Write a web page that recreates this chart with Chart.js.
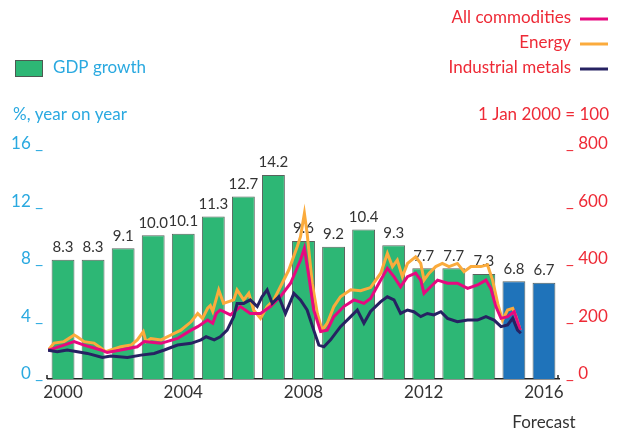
<!DOCTYPE html>
<html>
<head>
<meta charset="utf-8">
<script src="https://cdn.jsdelivr.net/npm/chart.js@4.4.1/dist/chart.umd.min.js"></script>
<style>
html, body { margin: 0; padding: 0; background: #fff; }
</style>
</head>
<body>
<canvas id="myChart" width="623" height="433"></canvas>
<script>
// GDP growth, % year on year (2015-16 are forecasts)
var years = ["2000","2001","2002","2003","2004","2005","2006","2007","2008","2009","2010","2011","2012","2013","2014","2015","2016"];
var gdpGrowth = [8.3, 8.3, 9.1, 10.0, 10.1, 11.3, 12.7, 14.2, 9.6, 9.2, 10.4, 9.3, 7.7, 7.7, 7.3, 6.8, 6.7];
var firstForecast = 2015;
var yearTicks = ["2000","2004","2008","2012","2016"];
var gdpTicks = [0, 4, 8, 12, 16];
var indexTicks = [0, 200, 400, 600, 800];

// commodity price indices, 1 Jan 2000 = 100
var allYears = [2000.00, 2000.53, 2000.87, 2001.20, 2001.76, 2001.97, 2002.42, 2002.97, 2003.20, 2003.76, 2004.31, 2004.76, 2004.98, 2005.31, 2005.48, 2005.60, 2005.73, 2006.07, 2006.40, 2006.73, 2007.07, 2007.40, 2007.73, 2008.07, 2008.40, 2008.53, 2008.68, 2008.84, 2009.07, 2009.29, 2009.51, 2009.84, 2010.18, 2010.51, 2010.73, 2011.07, 2011.29, 2011.51, 2011.73, 2011.96, 2012.23, 2012.40, 2012.51, 2012.73, 2012.96, 2013.29, 2013.62, 2013.96, 2014.29, 2014.57, 2014.73, 2014.90, 2015.07, 2015.29, 2015.51, 2015.71];
var allIndex = [100, 118, 130, 118, 101, 92, 101, 112, 130, 124, 141, 170, 182, 205, 194, 228, 240, 223, 252, 228, 228, 252, 286, 333, 414, 455, 356, 240, 165, 170, 217, 252, 275, 263, 280, 344, 385, 356, 321, 356, 368, 344, 298, 321, 344, 333, 333, 315, 327, 344, 315, 252, 211, 217, 234, 170];

var energyYears = [2000.00, 2000.20, 2000.53, 2000.87, 2000.97, 2001.20, 2001.53, 2001.76, 2001.92, 2002.09, 2002.42, 2002.76, 2002.97, 2003.17, 2003.26, 2003.42, 2003.76, 2004.09, 2004.42, 2004.76, 2004.98, 2005.14, 2005.31, 2005.40, 2005.48, 2005.68, 2005.84, 2006.18, 2006.29, 2006.51, 2006.68, 2006.84, 2007.07, 2007.29, 2007.51, 2007.79, 2008.01, 2008.29, 2008.40, 2008.53, 2008.62, 2008.79, 2008.96, 2009.12, 2009.29, 2009.51, 2009.73, 2010.07, 2010.40, 2010.73, 2011.07, 2011.29, 2011.46, 2011.62, 2011.79, 2011.96, 2012.23, 2012.40, 2012.51, 2012.68, 2012.90, 2013.12, 2013.34, 2013.62, 2013.84, 2014.07, 2014.40, 2014.62, 2014.79, 2014.96, 2015.12, 2015.29, 2015.46, 2015.57, 2015.71];
var energyIndex = [100, 125, 130, 153, 147, 130, 125, 108, 95, 101, 112, 118, 136, 165, 130, 141, 136, 153, 170, 199, 228, 211, 246, 255, 235, 310, 263, 275, 310, 275, 298, 240, 211, 252, 275, 333, 379, 460, 495, 576, 507, 333, 228, 170, 194, 252, 286, 310, 307, 318, 368, 437, 391, 414, 356, 402, 425, 402, 344, 368, 391, 402, 391, 402, 373, 391, 391, 397, 344, 263, 205, 240, 246, 217, 170];

var metalsYears = [2000.00, 2000.31, 2000.64, 2000.98, 2001.31, 2001.81, 2002.09, 2002.64, 2003.09, 2003.53, 2003.87, 2004.31, 2004.76, 2005.09, 2005.26, 2005.53, 2005.73, 2005.96, 2006.18, 2006.29, 2006.51, 2006.73, 2006.96, 2007.12, 2007.29, 2007.46, 2007.68, 2007.90, 2008.18, 2008.40, 2008.62, 2008.84, 2009.01, 2009.18, 2009.40, 2009.73, 2010.07, 2010.29, 2010.51, 2010.73, 2011.07, 2011.29, 2011.51, 2011.73, 2011.96, 2012.17, 2012.40, 2012.62, 2012.84, 2013.07, 2013.29, 2013.62, 2013.96, 2014.29, 2014.57, 2014.84, 2015.07, 2015.29, 2015.46, 2015.62, 2015.73];
var metalsIndex = [100, 95, 101, 95, 89, 75, 80, 75, 83, 89, 101, 118, 124, 136, 147, 136, 147, 170, 217, 263, 263, 275, 252, 286, 310, 263, 286, 228, 298, 275, 240, 170, 118, 112, 136, 182, 217, 240, 194, 235, 269, 286, 275, 228, 240, 234, 217, 228, 223, 234, 211, 199, 205, 205, 217, 205, 182, 188, 211, 170, 159];

var green = "#2db775";
var blue = "#1f73ba";
var pink = "#e6097f";
var orange = "#fbab3c";
var navy = "#262262";
var red = "#ee2a36";
var lightBlue = "#2aa9e0";
var font = "Lato";

function points(xs, ys){
    return xs.map(function(x, i){ return {x: x, y: ys[i]}; });
}

var barColors = years.map(function(y){ return parseInt(y) >= firstForecast ? blue : green; });

// value labels above the bars, drawn before the lines so they sit underneath
var barLabels = {
    id: "barLabels",
    afterDatasetDraw: function(chart, args){
        if(args.index !== 0) return;
        var ctx = chart.ctx;
        ctx.save();
        ctx.font = "15px " + font;
        ctx.fillStyle = "#333";
        ctx.textAlign = "center";
        ctx.textBaseline = "bottom";
        args.meta.data.forEach(function(bar, i){
            ctx.fillText(gdpGrowth[i].toFixed(1), bar.x, bar.y - 5);
        });
        ctx.restore();
    }
};

// legends, axis titles and the little end stops on the x axis
var extras = {
    id: "extras",
    afterDraw: function(chart){
        var ctx = chart.ctx;
        var area = chart.chartArea;
        ctx.save();
        ctx.font = "17px " + font;
        ctx.textBaseline = "middle";

        var items = [["All commodities", pink, 18], ["Energy", orange, 43], ["Industrial metals", navy, 68]];
        items.forEach(function(it){
            ctx.fillStyle = red;
            ctx.textAlign = "right";
            ctx.fillText(it[0], 571, it[2]);
            ctx.strokeStyle = it[1];
            ctx.lineWidth = 3;
            ctx.beginPath();
            ctx.moveTo(580, it[2] + 1);
            ctx.lineTo(608, it[2] + 1);
            ctx.stroke();
        });

        ctx.fillStyle = green;
        ctx.fillRect(15, 60, 28, 17);
        ctx.strokeStyle = "#4d5a52";
        ctx.lineWidth = 1;
        ctx.strokeRect(15.5, 60.5, 27, 16);
        ctx.fillStyle = lightBlue;
        ctx.textAlign = "left";
        ctx.fillText("GDP growth", 53, 68);
        ctx.fillText("%, year on year", 13, 115);

        ctx.fillStyle = red;
        ctx.textAlign = "right";
        ctx.fillText("1 Jan 2000 = 100", 609, 115);

        ctx.strokeStyle = "#222";
        ctx.lineWidth = 1.5;
        ctx.beginPath();
        ctx.moveTo(area.left - 1, area.bottom - 4);
        ctx.lineTo(area.left - 1, area.bottom);
        ctx.moveTo(area.right - 1, area.bottom - 4);
        ctx.lineTo(area.right - 1, area.bottom);
        ctx.stroke();
        ctx.restore();
    }
};

new Chart("myChart", {
    type: "bar",
    data: {
        labels: years,
        datasets: [{
            type: "bar",
            label: "GDP growth",
            data: gdpGrowth,
            backgroundColor: barColors,
            borderColor: "rgba(60,70,65,0.85)",
            borderWidth: 1,
            grouped: false,
            barPercentage: 0.76,
            categoryPercentage: 1,
            xAxisID: "x",
            yAxisID: "y",
            order: 10
        }, {
            type: "line",
            label: "Energy",
            data: points(energyYears, energyIndex),
            borderColor: orange,
            borderWidth: 3,
            pointRadius: 0,
            tension: 0,
            xAxisID: "x2",
            yAxisID: "y2",
            order: 3
        }, {
            type: "line",
            label: "All commodities",
            data: points(allYears, allIndex),
            borderColor: pink,
            borderWidth: 3,
            pointRadius: 0,
            tension: 0,
            xAxisID: "x2",
            yAxisID: "y2",
            order: 2
        }, {
            type: "line",
            label: "Industrial metals",
            data: points(metalsYears, metalsIndex),
            borderColor: navy,
            borderWidth: 3,
            pointRadius: 0,
            tension: 0,
            xAxisID: "x2",
            yAxisID: "y2",
            order: 1
        }]
    },
    options: {
        responsive: false,
        animation: false,
        devicePixelRatio: 1,
        layout: { padding: { top: 149, left: 0, right: 0, bottom: 0 } },
        plugins: { legend: { display: false }, tooltip: { enabled: false } },
        scales: {
            x: {
                type: "category",
                offset: true,
                grid: { display: false },
                border: { display: true, color: "#222", width: 1.5 },
                ticks: {
                    autoSkip: false,
                    maxRotation: 0,
                    padding: -10,
                    color: "#333",
                    font: { family: font, size: 17, lineHeight: 1.8 },
                    callback: function(v, i){
                        var y = years[i];
                        if(yearTicks.indexOf(y) < 0) return "";
                        return parseInt(y) >= firstForecast ? [y, "Forecast"] : y;
                    }
                },
                afterFit: function(s){ s.height = 54; }
            },
            x2: { type: "linear", min: 2000, max: 2017, offset: false, display: false },
            y: {
                position: "left",
                min: 0,
                max: 16,
                afterBuildTicks: function(s){ s.ticks = gdpTicks.map(function(v){ return {value: v}; }); },
                grid: { display: false },
                border: { display: false },
                ticks: {
                    color: lightBlue,
                    padding: -3,
                    labelOffset: -5,
                    font: { family: font, size: 17 },
                    callback: function(v){ return v + " _"; }
                },
                afterFit: function(s){ s.width = 48; }
            },
            y2: {
                position: "right",
                min: 0,
                max: 800,
                afterBuildTicks: function(s){ s.ticks = indexTicks.map(function(v){ return {value: v}; }); },
                grid: { display: false },
                border: { display: false },
                ticks: {
                    color: red,
                    padding: -1,
                    labelOffset: -5,
                    font: { family: font, size: 17 },
                    callback: function(v){ return "_ " + v; }
                },
                afterFit: function(s){ s.width = 64; }
            }
        }
    },
    plugins: [barLabels, extras]
});
</script>
</body>
</html>
